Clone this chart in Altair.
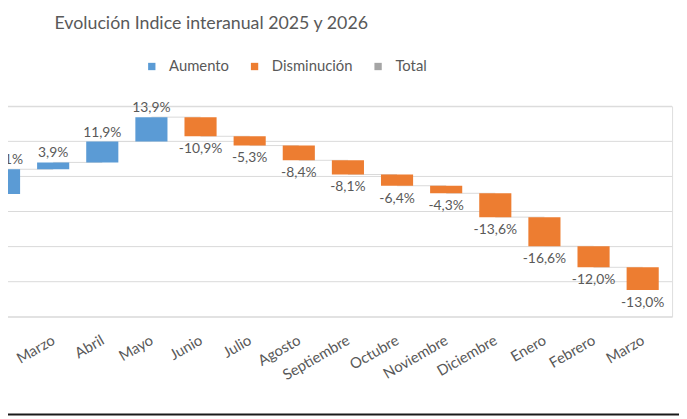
import altair as alt
import pandas as pd

# ---- data ----
meses = ["Febrero", "Marzo", "Abril", "Mayo", "Junio", "Julio", "Agosto",
         "Septiembre", "Octubre", "Noviembre", "Diciembre", "Enero",
         "Febrero", "Marzo"]
variacion = [14.1, 3.9, 11.9, 13.9, -10.9, -5.3, -8.4, -8.1, -6.4, -4.3,
             -13.6, -16.6, -12.0, -13.0]
nivel_inicial = 70.0
grid_vals = [0, 20, 40, 60, 80, 100, 120]
series = ["Aumento", "Disminución", "Total"]
colores = ["#5B9BD5", "#ED7D31", "#A5A5A5"]
titulo = "Evolución Indice interanual 2025 y 2026"

# ---- waterfall table ----
rows = []
level = nivel_inicial
n = len(meses)
for i, (m, v) in enumerate(zip(meses, variacion)):
    start = level
    end = level + v
    rows.append(dict(
        idx=i, mes=m, inicio=start, fin=end,
        top=max(start, end), bottom=min(start, end),
        tipo="Aumento" if v > 0 else "Disminución",
        etiqueta=f"{v:.1f}".replace(".", ",") + "%",
        idx_sig=i + 1,
        ultimo=(i == n - 1),
    ))
    level = end
df = pd.DataFrame(rows)
grid_df = pd.DataFrame({"g": grid_vals})

label_expr = "[" + ",".join(f"'{m}'" for m in meses) + "][datum.value]"

xscale = alt.Scale(domain=[-0.0198, 13.498], nice=False, zero=False)
yscale = alt.Scale(domain=[0, 120], nice=False, zero=False)

xaxis = alt.Axis(values=list(range(n)), labelExpr=label_expr, title=None,
                 labelAngle=330, labelAlign="right", labelBaseline="middle",
                 labelFont="Lato", labelFontSize=15, labelColor="#595959",
                 labelPadding=22, labelOverlap=False, labelFlush=False,
                 labelBound=False, domain=False, ticks=False, grid=False)
yaxis = alt.Axis(labels=False, ticks=False, domain=False, title=None,
                 grid=False)

gridlines = alt.Chart(grid_df).mark_rule(color="#d9d9d9", strokeWidth=1).encode(
    y=alt.Y("g:Q", scale=yscale, axis=yaxis),
    x=alt.value(0), x2=alt.value(682),
)

base = alt.Chart(df)

connectors = base.transform_filter("!datum.ultimo").mark_rule(
    color="#d9d9d9", strokeWidth=1
).encode(
    x=alt.X("idx:Q", scale=xscale, axis=xaxis),
    x2="idx_sig:Q",
    y=alt.Y("fin:Q", scale=yscale, axis=yaxis),
)

bars = base.mark_bar(size=32.5).encode(
    x=alt.X("idx:Q", scale=xscale, axis=xaxis),
    y=alt.Y("inicio:Q", scale=yscale, axis=yaxis),
    y2="fin:Q",
    color=alt.Color(
        "tipo:N",
        scale=alt.Scale(domain=series, range=colores),
        legend=alt.Legend(
            title=None, orient="none", legendX=148, legendY=-48,
            direction="horizontal", symbolType="square", symbolSize=55,
            labelFont="Lato", labelFontSize=15, labelColor="#595959",
            labelOffset=10, columnPadding=18, symbolStrokeWidth=0,
            symbolOpacity=1,
        ),
    ),
)

up_labels = base.transform_filter("datum.tipo == 'Aumento'").mark_text(
    baseline="alphabetic", dy=-5, font="Lato", fontSize=14, color="#595959"
).encode(x="idx:Q", y="top:Q", text="etiqueta:N")

down_labels = base.transform_filter("datum.tipo == 'Disminución'").mark_text(
    baseline="top", dy=6, font="Lato", fontSize=14, color="#595959"
).encode(x="idx:Q", y="bottom:Q", text="etiqueta:N")

border = alt.Chart(pd.DataFrame({"k": [0]})).mark_rule(
    color="#1a1a1a", strokeWidth=2
).encode(x=alt.value(2), x2=alt.value(689), y=alt.value(312))

chart = alt.layer(gridlines, connectors, bars, up_labels, down_labels, border).properties(
    width=682, height=213,
    autosize=alt.AutoSizeParams(type="none"),
    padding={"left": -10, "top": 97, "right": 7, "bottom": 101},
    title=alt.TitleParams(
        text=titulo, anchor="start", font="Lato", fontSize=18,
        fontWeight="normal", color="#595959", dx=57, offset=12,
        baseline="alphabetic", frame="group",
    ),
).configure_view(stroke=None).configure(background="white")

chart.save("out.html", embed_options={"renderer": "svg", "actions": False})
